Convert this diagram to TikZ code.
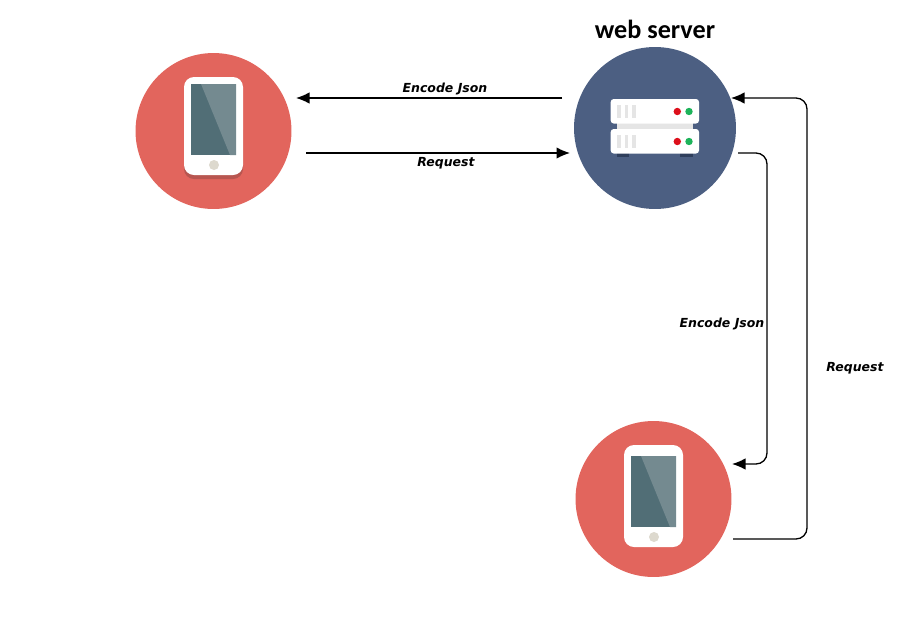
\documentclass[tikz,border=0pt]{standalone}
\usepackage{fontspec}
\usepackage{tikz}
\usetikzlibrary{arrows.meta, positioning, calc}
\newfontfamily\labelfont{DejaVu Sans}
\newfontfamily\titlefont{Carlito}
\definecolor{phonered}{HTML}{E2655D}
\definecolor{phoneshade}{HTML}{B85650}
\definecolor{screendark}{HTML}{516E76}
\definecolor{screenlight}{HTML}{748A90}
\definecolor{homebutton}{HTML}{DDD9CE}
\definecolor{serverblue}{HTML}{4C5F82}
\definecolor{serverfoot}{HTML}{2F3F5C}
\definecolor{ledred}{HTML}{DD0F1B}
\definecolor{ledgreen}{HTML}{1DB35A}
\tikzset{
	phonedisc/.style={circle, fill=phonered, inner sep=0pt, minimum size=3.12cm},
	serverdisc/.style={circle, fill=serverblue, inner sep=0pt, minimum size=3.24cm},
	link/.style={-{Latex[length=2.7mm, width=2.3mm]}, line width=0.75pt, rounded corners=0.22cm},
	linklabel/.style={font=\labelfont\bfseries\itshape\fontsize{7.1}{9}\selectfont},
	pics/phone/.style={code={
		\fill[white, rounded corners=0.2cm] (-29,0) rectangle (30,91+#1);
		\fill[screendark] (-22,#1) rectangle (23,71+#1);
		\fill[screenlight] (-12,#1) -- (23,#1) -- (23,71+#1) -- (17,71+#1) -- cycle;
		\fill[homebutton] (1,81+#1) circle (0.1cm);
	}}
}
\begin{document}
\begin{tikzpicture}[x=0.02cm, y=-0.02cm]
	\useasboundingbox (0,0) rectangle (910,643);
	\node[phonedisc] (phoneA) at (213.5,131) {};
	\node[serverdisc] (server) at (655,128) {};
	\node[phonedisc] (phoneB) at (653.5,499) {};
	\fill[phoneshade, rounded corners=0.2cm] (184,120) rectangle (243,179);
	\pic at (213,77) {phone=7};
	\pic at (653,445) {phone=11};
	\node[font=\titlefont\bfseries\fontsize{14.9}{17}\selectfont, inner sep=0pt] (title) at (655,29) {web server};
	% server icon
	\fill[serverfoot] (617,150) rectangle (629,156.7);
	\fill[serverfoot] (680,150) rectangle (693,156.7);
	\fill[black!10] (617,122) rectangle (693,131);
	\foreach \top in {99,129} {
		\fill[white, rounded corners=0.06cm] (610.7,\top) rectangle (699,\top+24.5);
		\foreach \barx in {617.3,624.7,632.3}
			\fill[black!10] (\barx,\top+6) rectangle (\barx+3.7,\top+19);
		\fill[ledred] (677.3,\top+12.5) circle (0.074cm);
		\fill[ledgreen] (689,\top+12.5) circle (0.074cm);
	}
	% ends of the connectors
	\coordinate (serverOutA) at (562,98);
	\coordinate (phoneAIn) at (296,98);
	\coordinate (phoneAOut) at (306,153);
	\coordinate (serverInA) at (570,153);
	\coordinate (serverOutB) at (738,153);
	\coordinate (phoneBIn) at (732,464);
	\coordinate (phoneBOut) at (733,539);
	\coordinate (serverInB) at (731,98);
	\draw[link] (serverOutA) -- (phoneAIn) node[linklabel, pos=0.44, above, yshift=-0.8mm] (encodeA) {Encode Json};
	\draw[link] (phoneAOut) -- (serverInA) node[linklabel, pos=0.53, below, yshift=0.4mm] (requestA) {Request};
	\draw[link] (serverOutB) -- (767,153) -- (767,464) -- (phoneBIn);
	\draw[link] (phoneBOut) -- (807,539) -- (807,98) -- (serverInB);
	\node[linklabel] (encodeB) at (722,324) {Encode Json};
	\node[linklabel] (requestB) at (855,368) {Request};
\end{tikzpicture}
\end{document}
